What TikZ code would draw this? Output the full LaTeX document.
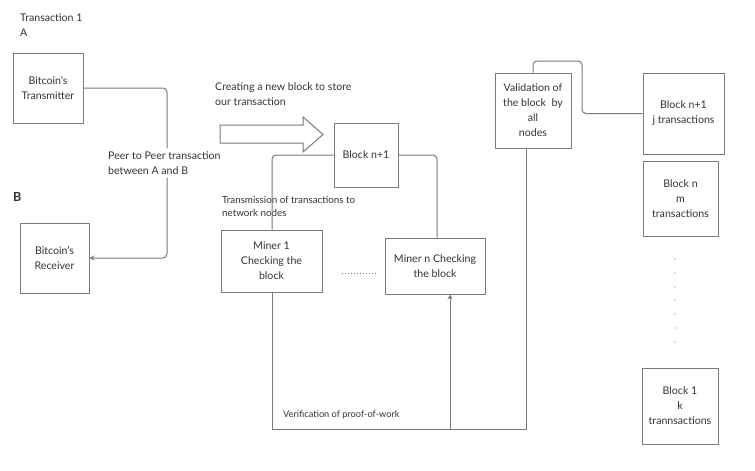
\documentclass[tikz,border=0pt]{standalone}
\usepackage{fontspec}
\setmainfont{Lato}
\usetikzlibrary{arrows.meta}
\definecolor{txt}{HTML}{333333}
\definecolor{ln}{HTML}{7A7A7A}
\begin{document}
\begin{tikzpicture}[x=1pt,y=-1pt,
  every node/.style={text=txt,font=\fontsize{10.6}{15}\selectfont,inner sep=0pt},
  box/.style={draw=ln,line width=1pt,align=center},
  conn/.style={draw=ln,line width=1pt,rounded corners=4pt},
  sharp/.style={draw=ln,line width=1pt},
  tip/.style={-{Stealth[length=5pt,width=5pt,open]}},
  small/.style={font=\fontsize{9.8}{13.5}\selectfont,align=left}]
\useasboundingbox (0,0) rectangle (755,471);
% boxes
\node[box,minimum width=70pt,minimum height=70pt] (tx) at (48,88) {Bitcoin's\\Transmitter};
\node[box,minimum width=69pt,minimum height=70pt] (rx) at (54.5,258) {Bitcoin's\\Receiver};
\node[box,minimum width=64pt,minimum height=64pt] (bn1) at (366,155) {Block n+1};
\node[box,minimum width=101pt,minimum height=62pt] (m1) at (271.5,261) {Miner 1\\Checking the\\block};
\node[box,minimum width=100pt,minimum height=56pt] (mn) at (435,266) {Miner n Checking\\the block};
\node[box,minimum width=76pt,minimum height=75pt] (val) at (533,110.5) {Validation of\\the block~~by\\all\\nodes};
\node[box,minimum width=81pt,minimum height=81pt] (bj) at (683.5,113.5) {Block n+1\\j transactions};
\node[box,minimum width=75pt,minimum height=75pt] (bm) at (680.5,198.5) {Block n\\m\\transactions};
\node[box,minimum width=76pt,minimum height=76pt] (b1) at (680,406) {Block 1\\k\\trannsactions};
% free texts
\node[anchor=west,align=left] (t1) at (20,25.5) {Transaction 1\\A};
\node[anchor=west,font=\fontsize{12.5}{14}\selectfont\bfseries] (tB) at (13,197) {B};
\node[anchor=west,align=left] (tc) at (215,94.5) {Creating a new block to store\\our transaction};
\node[anchor=west,small] (tt) at (222,206.5) {Transmission of transactions to\\network nodes};
\node[anchor=west,font=\fontsize{9.2}{12}\selectfont] (tv) at (283,415) {Verification of proof-of-work};
\node[align=left,anchor=west,inner sep=3pt] (peer) at (105,163) {Peer to Peer transaction\\between A and B};
% peer to peer connector
\coordinate (pv) at (167,0);
\draw[conn] (tx.east) -| (pv |- peer.north);
\draw[conn,tip] (pv |- peer.south) |- (rx.east);
% block arrow
\draw[ln,line width=1pt,fill=white] (220,125) -- (303,125) -- (303,117) -- (323,134.5) -- (303,152) -- (303,143) -- (220,143) -- cycle;
% block n+1 to miners
\draw[conn] (bn1.west) -| ([xshift=0.5pt]m1.north);
\draw[conn] (bn1.east) -| ([xshift=2pt]mn.north);
% dotted between miners
\coordinate (d1) at (342,273);
\coordinate (d2) at (377,273);
\draw[ln,line width=1pt,dotted] (d1) -- (d2);
% verification loop
\coordinate (j) at (450,429);
\draw[sharp] ([xshift=0.5pt]m1.south) |- (j);
\draw[sharp,tip] (j) -- (j |- mn.south);
\draw[sharp] ([xshift=-7pt]val.south) |- (j);
% validation to chain
\coordinate (vr) at (582,61);
\draw[conn] (val.north) |- (vr) |- (bj.west);
% dots
\foreach \yy in {259,273,287,300,314,328,342} \fill[ln] (675,\yy) circle (0.7pt);
\end{tikzpicture}
\end{document}
